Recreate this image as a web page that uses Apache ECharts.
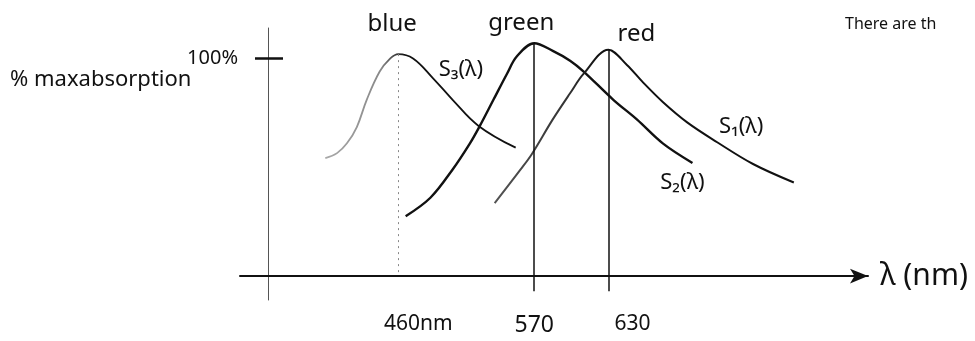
<!DOCTYPE html>
<html>
<head>
<meta charset="utf-8">
<script src="https://cdn.jsdelivr.net/npm/echarts@6/dist/echarts.min.js"></script>
<style>
  html, body { margin: 0; background: #fff; }
  #chart { width: 975px; height: 341px; }
</style>
</head>
<body>
<div id="chart"></div>
<script>
// % max absorption vs wavelength (nm)
const s3Blue = [[401, 54.2], [410.5, 56.5], [418.5, 61], [426.5, 68.5], [434.5, 81], [445, 94], [453, 99.7], [460, 102], [472, 100], [488, 91], [504, 81], [525, 69], [555, 59]]
const s2Green = [[466, 27.5], [486, 36], [504, 49], [518, 61], [526, 69], [537, 81], [548, 93], [556, 101], [570, 107], [585, 103.5], [599, 99], [610, 94], [634, 81], [653, 72], [674, 61], [698, 52]]
const s1Red = [[538, 33.5], [559, 49], [568, 56], [585, 72], [599, 84], [610, 93], [630, 104], [645, 97], [658, 89], [674, 80], [694, 70.5], [718, 61.5], [747, 51.5], [780, 43]]
const peaks = [460, 570, 630]
const tickLabels = ['460nm', '570', '630']
const peakNames = ['blue', 'green', 'red']
const curveNames = ['S₃(λ)', 'S₂(λ)', 'S₁(λ)']

const ink = '#111'
const font = 'Noto Sans'

function withLabels(points, labels) {
  return points.map((p, i) => {
    if (!labels[i]) return p
    return {
      value: p,
      label: Object.assign({ show: true, position: 'inside', color: ink, fontFamily: font }, labels[i]),
    }
  })
}

function peakOf(points, x) {
  return points.find((p) => p[0] === x)[1]
}

function vline(x, top, bottom, style) {
  return {
    symbol: ['none', 'none'],
    silent: true,
    label: { show: false },
    lineStyle: style,
    data: [[{ coord: [x, top] }, { coord: [x, bottom] }]],
  }
}

const chart = echarts.init(document.getElementById('chart'))

chart.setOption({
  animation: false,
  backgroundColor: '#fff',
  grid: { left: 240, right: 107, top: 28, bottom: 41, outerBoundsMode: 'none' },
  graphic: [
    { type: 'text', left: 10, top: 69, style: { text: '% maxabsorption', fontSize: 22, fill: ink, fontFamily: font } },
    { type: 'text', left: 845, top: 16, style: { text: 'There are th', fontSize: 16, fill: ink, fontFamily: font } },
  ],
  xAxis: {
    type: 'value',
    min: 332,
    max: 840,
    name: 'λ (nm)',
    nameLocation: 'end',
    nameGap: 12,
    nameTextStyle: { fontSize: 30, color: ink, fontFamily: font, verticalAlign: 'middle', padding: [0, 0, 26, 0] },
    axisLine: {
      onZero: true,
      symbol: ['none', 'arrow'],
      symbolSize: [11, 18],
      lineStyle: { color: ink, width: 2 },
    },
    axisTick: { show: false },
    splitLine: { show: false },
    axisLabel: {
      customValues: peaks,
      margin: 14,
      formatter: (v) => {
        const i = peaks.indexOf(v)
        return '{' + 'abc'[i] + '|' + tickLabels[i] + '}'
      },
      rich: {
        a: { fontSize: 21, color: ink, fontFamily: font, padding: [0, 0, 0, 40] },
        b: { fontSize: 23, color: ink, fontFamily: font },
        c: { fontSize: 21, color: ink, fontFamily: font, padding: [0, 0, 0, 48] },
      },
    },
  },
  yAxis: [
    {
      type: 'value',
      position: 'left',
      min: -11,
      max: 114,
      offset: -28,
      axisLine: { show: true, onZero: false, lineStyle: { color: '#555', width: 1 } },
      axisTick: { show: true, customValues: [100], length: 13, lineStyle: { color: ink, width: 2.5 } },
      axisLabel: {
        customValues: [100],
        formatter: '100%',
        margin: 30,
        fontSize: 20,
        color: ink,
        fontFamily: font,
        padding: [0, 0, 12, 0],
      },
      splitLine: { show: false },
    },
    {
      type: 'value',
      position: 'left',
      min: -11,
      max: 114,
      offset: -28,
      axisLine: { show: false, onZero: false },
      axisTick: { show: true, inside: true, customValues: [100], length: 15, lineStyle: { color: ink, width: 2.5 } },
      axisLabel: { show: false },
      splitLine: { show: false },
    },
  ],
  series: [
    {
      name: 'S3',
      type: 'line',
      smooth: 0.4,
      symbol: 'circle',
      symbolSize: 0,
      lineStyle: {
        width: 1.8,
        color: {
          type: 'linear', x: 0, y: 0, x2: 1, y2: 0,
          colorStops: [
            { offset: 0, color: '#aaa' },
            { offset: 0.3, color: '#888' },
            { offset: 0.42, color: ink },
            { offset: 1, color: ink },
          ],
        },
      },
      data: withLabels(s3Blue, {
        7: { formatter: peakNames[0], fontSize: 24, offset: [-6, -30] },
        9: { formatter: curveNames[0], fontSize: 22, offset: [28, -8] },
      }),
      markLine: vline(peaks[0], peakOf(s3Blue, peaks[0]), 0, { color: '#888', width: 1, type: [2, 4] }),
    },
    {
      name: 'S2',
      type: 'line',
      smooth: 0.35,
      symbol: 'circle',
      symbolSize: 0,
      lineStyle: { width: 2.4, color: ink },
      data: withLabels(s2Green, {
        8: { formatter: peakNames[1], fontSize: 24, offset: [-13, -20] },
        15: { formatter: curveNames[1], fontSize: 22, offset: [-10, 20] },
      }),
      markLine: vline(peaks[1], peakOf(s2Green, peaks[1]), -7, { color: ink, width: 1.5, type: 'solid' }),
    },
    {
      name: 'S1',
      type: 'line',
      smooth: 0.35,
      symbol: 'circle',
      symbolSize: 0,
      lineStyle: {
        width: 2,
        color: {
          type: 'linear', x: 0, y: 0, x2: 1, y2: 0,
          colorStops: [
            { offset: 0, color: '#555' },
            { offset: 0.25, color: '#333' },
            { offset: 0.35, color: ink },
            { offset: 1, color: ink },
          ],
        },
      },
      data: withLabels(s1Red, {
        6: { formatter: peakNames[2], fontSize: 24, offset: [28, -16] },
        11: { formatter: curveNames[2], fontSize: 22, offset: [24, -16] },
      }),
      markLine: vline(peaks[2], peakOf(s1Red, peaks[2]), -7, { color: ink, width: 1.5, type: 'solid' }),
    },
  ],
})
</script>
</body>
</html>
